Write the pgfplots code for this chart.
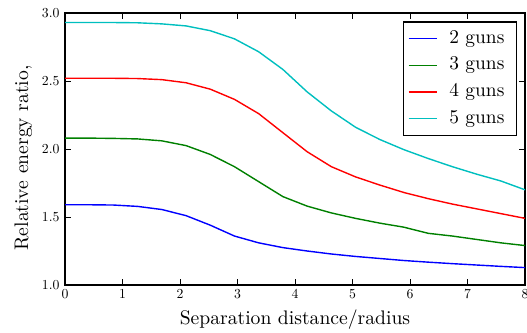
\documentclass[border=0pt]{standalone}
\usepackage{pgfplots}
\pgfplotsset{compat=1.18}
\definecolor{mblue}{rgb}{0,0,1}
\definecolor{mgreen}{rgb}{0,0.5,0}
\definecolor{mred}{rgb}{1,0,0}
\definecolor{mcyan}{rgb}{0,0.75,0.75}
\begin{document}
\begin{tikzpicture}
\begin{axis}[
  width=460bp, height=272bp, scale only axis,
  xmin=0, xmax=8, ymin=1, ymax=3,
  xtick={0,1,...,8}, ytick={1.0,1.5,2.0,2.5,3.0},
  xticklabel={\scalebox{1.38}{$\pgfmathprintnumber{\tick}$}},
  yticklabel={\scalebox{1.38}{$\pgfmathprintnumber[fixed,fixed zerofill,precision=1]{\tick}$}},
  xticklabel style={yshift=-1bp},
  yticklabel style={xshift=-2bp},
  xtick pos=both, ytick pos=both,
  tick align=inside, major tick length=6bp,
  tick style={black, line width=0.8bp},
  axis line style={line width=1.5bp},
  xlabel={\scalebox{1.97}{Separation distance/radius}},
  ylabel={\scalebox{1.97}{Relative energy ratio,}},
  xlabel style={at={(axis description cs:0.5,-0.147)}, anchor=base},
  ylabel style={at={(axis description cs:-0.0804,0.467)}, anchor=base, rotate=0},
  legend style={at={(1,1)}, anchor=north east, xshift=-8bp, yshift=-8.5bp,
    draw=black, line width=1.2bp,
    row sep=9.7bp, column sep=4bp, inner xsep=4bp, inner ysep=8bp,
    nodes={inner xsep=8bp, inner ysep=0bp, text height=13bp, text depth=4bp}},
  legend cell align=left,
  legend image code/.code={\draw[#1, line width=1.5bp] (0bp,0bp) -- (28bp,0bp);},
  every axis plot/.append style={line width=1.4bp},
]
\addplot[mblue] coordinates {
(0,1.59) (0.421,1.59) (0.842,1.588) (1.263,1.578) (1.684,1.555) (2.105,1.51) (2.526,1.44) (2.947,1.36) (3.368,1.31) (3.789,1.275) (4.211,1.25) (4.632,1.228) (5.053,1.21) (5.474,1.195) (5.895,1.18) (6.316,1.168) (6.737,1.157) (7.158,1.147) (7.579,1.137) (8.0,1.128)};
\addlegendentry{\scalebox{1.95}{2 guns}}
\addplot[mgreen] coordinates {
(0,2.08) (0.421,2.08) (0.842,2.078) (1.263,2.074) (1.684,2.06) (2.105,2.025) (2.526,1.96) (2.947,1.87) (3.368,1.76) (3.789,1.65) (4.211,1.58) (4.632,1.53) (5.053,1.49) (5.474,1.455) (5.895,1.425) (6.316,1.38) (6.737,1.36) (7.158,1.335) (7.579,1.31) (8.0,1.29)};
\addlegendentry{\scalebox{1.95}{3 guns}}
\addplot[mred] coordinates {
(0,2.52) (0.421,2.52) (0.842,2.52) (1.263,2.518) (1.684,2.51) (2.105,2.487) (2.526,2.44) (2.947,2.365) (3.368,2.26) (3.789,2.12) (4.211,1.98) (4.632,1.87) (5.053,1.795) (5.474,1.735) (5.895,1.68) (6.316,1.635) (6.737,1.595) (7.158,1.56) (7.579,1.525) (8.0,1.49)};
\addlegendentry{\scalebox{1.95}{4 guns}}
\addplot[mcyan] coordinates {
(0,2.93) (0.421,2.93) (0.842,2.93) (1.263,2.928) (1.684,2.92) (2.105,2.905) (2.526,2.87) (2.947,2.81) (3.368,2.715) (3.789,2.585) (4.211,2.42) (4.632,2.28) (5.053,2.16) (5.474,2.07) (5.895,1.995) (6.316,1.93) (6.737,1.87) (7.158,1.815) (7.579,1.765) (8.0,1.70)};
\addlegendentry{\scalebox{1.95}{5 guns}}
\end{axis}
\pgfresetboundingbox
\path ([xshift=-65bp,yshift=-47bp]current axis.south west) rectangle ([xshift=2bp,yshift=13bp]current axis.north east);
\end{tikzpicture}
\end{document}
